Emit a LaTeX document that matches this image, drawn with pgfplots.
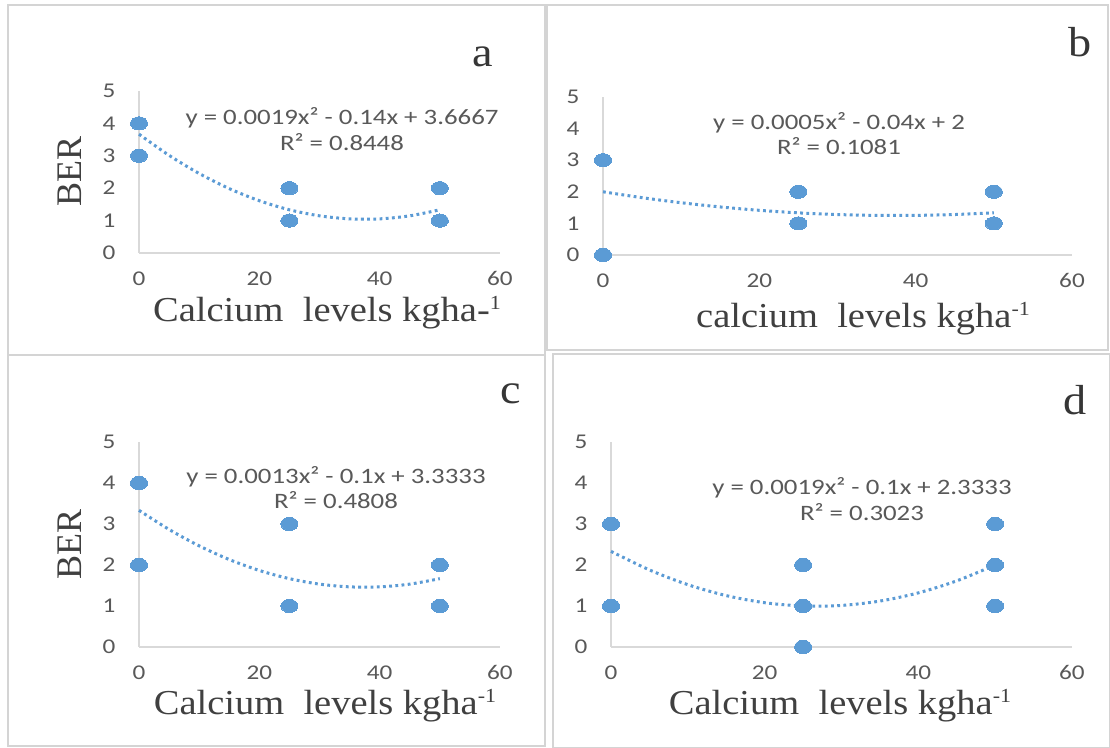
\documentclass[border=0pt]{standalone}
\usepackage{fontspec}
\usepackage{pgfplots}
\pgfplotsset{compat=1.18}
\setmainfont{Liberation Serif}
\newfontfamily\tickfnt[FakeStretch=1.2]{Carlito}
\newfontfamily\eqfnt[FakeStretch=1.22]{Carlito}
\newfontfamily\serfnt[FakeStretch=1.1]{Liberation Serif}
\newfontfamily\berfnt{Liberation Serif}
\definecolor{ptblue}{HTML}{5B9BD5}
\definecolor{axgray}{HTML}{D9D9D9}
\definecolor{tickgray}{HTML}{595959}
\definecolor{labgray}{HTML}{404040}
\definecolor{bordgray}{HTML}{D4D4D4}
\pgfplotsset{
  myax/.style={
    scale only axis, xmin=0, xmax=60, ymin=0, ymax=5, enlargelimits=false,
    axis lines=left, axis line style={draw=axgray, line width=1pt, -},
    major tick length=0pt, xtick={0,20,40,60}, ytick={0,1,2,3,4,5},
    tick label style={font=\tickfnt\fontsize{10.5}{12}\selectfont, text=tickgray},
    yticklabel style={xshift=-8.3pt},
    xticklabel style={yshift=-5.8pt},
    /pgf/number format/assume math mode=true,
    clip=false, anchor=south west,
  },
  pts/.style={only marks, color=ptblue, mark=*, mark size=3.3pt, mark options={xscale=1.3, fill=ptblue, draw=ptblue, line width=0pt}},
  trend/.style={no marks, color=ptblue, line width=1.5pt, dash pattern=on 1.4pt off 1.7pt, smooth},
}
\begin{document}
\begin{tikzpicture}
\useasboundingbox (0,0) rectangle (555pt,374pt);
\fill[white] (0,0) rectangle (555pt,374pt);
% panel borders
\draw[bordgray, line width=1.2pt] (4pt,371.5pt) rectangle (272.5pt,196.5pt);
\draw[bordgray, line width=1.2pt] (4pt,196.5pt) rectangle (272.5pt,1pt);
\draw[bordgray, line width=1.2pt] (273.5pt,371.5pt) rectangle (554pt,199pt);
\draw[bordgray, line width=1.2pt] (276.5pt,197pt) rectangle (555pt,0pt);

% ---------- panel a ----------
\begin{axis}[myax, at={(69.5pt,247.5pt)}, width=180.5pt, height=81pt]
\addplot[trend] coordinates {(0,3.6667) (5,3.0133) (10,2.4533) (15,1.9867) (20,1.6133) (25,1.3333) (30,1.1467) (35,1.0533) (40,1.0533) (45,1.1467) (50,1.3333)};
\addplot[pts] coordinates {(0,4) (0,3) (25,2) (25,1) (50,2) (50,1)};
\end{axis}
% ---------- panel b ----------
\begin{axis}[myax, at={(301.5pt,246.5pt)}, width=234.5pt, height=79pt]
\addplot[trend] coordinates {(0,2) (5,1.8133) (10,1.6533) (15,1.52) (20,1.4133) (25,1.3333) (30,1.28) (35,1.2533) (40,1.2533) (45,1.28) (50,1.3333)};
\addplot[pts] coordinates {(0,3) (0,0) (25,2) (25,1) (50,2) (50,1)};
\end{axis}
% ---------- panel c ----------
\begin{axis}[myax, at={(69.5pt,50.5pt)}, width=180.5pt, height=102.5pt]
\addplot[trend] coordinates {(0,3.3333) (5,2.8667) (10,2.4667) (15,2.1333) (20,1.8667) (25,1.6667) (30,1.5333) (35,1.4667) (40,1.4667) (45,1.5333) (50,1.6667)};
\addplot[pts] coordinates {(0,4) (0,2) (25,3) (25,1) (50,2) (50,1)};
\end{axis}
% ---------- panel d ----------
\begin{axis}[myax, at={(305.5pt,50.5pt)}, width=230.5pt, height=102.5pt]
\addplot[trend] coordinates {(0,2.3333) (5,1.88) (10,1.52) (15,1.2533) (20,1.08) (25,1.0) (30,1.0133) (35,1.12) (40,1.32) (45,1.6133) (50,2.0)};
\addplot[pts] coordinates {(0,3) (0,1) (25,2) (25,1) (25,0) (50,3) (50,2) (50,1)};
\end{axis}

% equations
\begin{scope}[every node/.style={font=\eqfnt\fontsize{11}{13}\selectfont, text=tickgray, inner sep=0pt}]
\node at (171pt,315pt) {y = 0.0019x² - 0.14x + 3.6667};
\node at (171pt,303pt) {R² = 0.8448};
\node at (419.5pt,312.5pt) {y = 0.0005x² - 0.04x + 2};
\node at (419.5pt,301pt) {R² = 0.1081};
\node at (168pt,135.5pt) {y = 0.0013x² - 0.1x + 3.3333};
\node at (168pt,124pt) {R² = 0.4808};
\node at (431pt,130pt) {y = 0.0019x² - 0.1x + 2.3333};
\node at (431pt,118pt) {R² = 0.3023};
\end{scope}

% axis titles
\begin{scope}[every node/.style={font=\serfnt\fontsize{17.5}{20}\selectfont, text=labgray, inner sep=0pt, anchor=base}]
\node at (163.5pt,213pt) {Calcium\ \ levels kgha-{\fontsize{10}{12}\selectfont\raisebox{6pt}{1}}};
\node at (431.5pt,210pt) {calcium\ \ levels kgha{\fontsize{10}{12}\selectfont\raisebox{6pt}{-1}}};
\node at (162.5pt,16.5pt) {Calcium\ \ levels kgha{\fontsize{10}{12}\selectfont\raisebox{6pt}{-1}}};
\node at (420pt,16.5pt) {Calcium\ \ levels kgha{\fontsize{10}{12}\selectfont\raisebox{6pt}{-1}}};
\end{scope}
\node[font=\berfnt\fontsize{18}{20}\selectfont, text=labgray, rotate=90, inner sep=0pt] at (35pt,288pt) {BER};
\node[font=\berfnt\fontsize{18}{20}\selectfont, text=labgray, rotate=90, inner sep=0pt] at (35pt,101.5pt) {BER};

% panel letters
\begin{scope}[every node/.style={font=\serfnt\fontsize{21}{24}\selectfont, text=labgray!85!black, inner sep=0pt, anchor=base}]
\node at (241.5pt,340.5pt) {a};
\node at (540pt,345.5pt) {b};
\node at (255.5pt,172pt) {c};
\node at (537.5pt,166.5pt) {d};
\end{scope}
\end{tikzpicture}
\end{document}
